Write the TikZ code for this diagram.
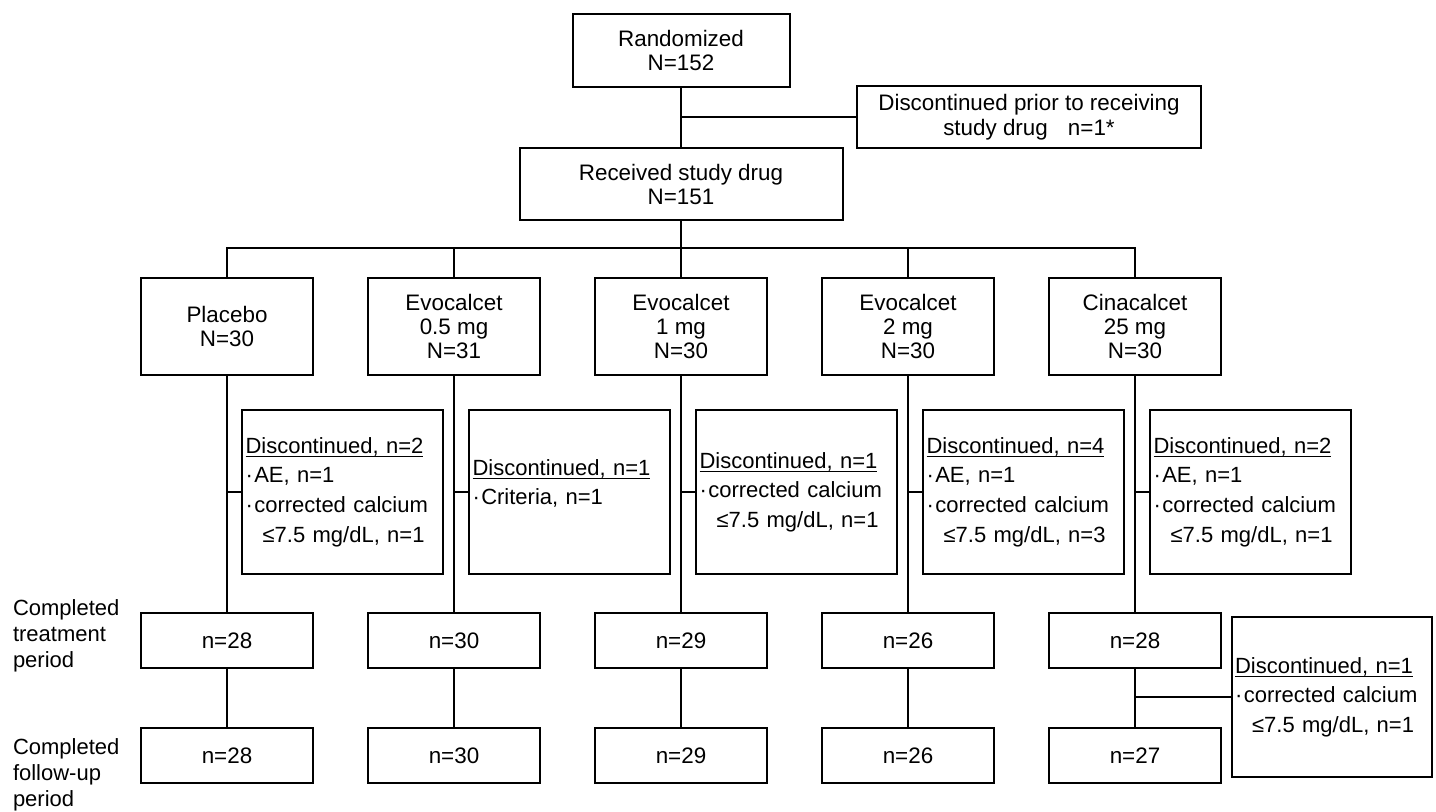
\documentclass[tikz,border=0pt]{standalone}
\usepackage{fontspec}
\setmainfont{Liberation Sans}
\newcommand{\mybullet}{\makebox[0.4em][l]{·}}
\newcommand{\myindent}{\hspace*{0.78em}}
\newcommand{\myul}[1]{\setbox0\hbox{#1}\rlap{\rule[-1.8pt]{\wd0}{0.5pt}}\box0}
\begin{document}
\begin{tikzpicture}[x=0.5pt,y=-0.5pt, line width=1pt,
  box/.style={draw, inner sep=0pt, align=center, font=\fontsize{11.2}{12}\selectfont},
  tbox/.style={box, minimum width=86pt, minimum height=48.5pt},
  nbox/.style={box, minimum width=86pt, minimum height=27.5pt},
  dbox/.style={draw, inner sep=0pt, minimum width=100.5pt, minimum height=82pt, text width=97pt, align=left, font=\fontsize{11}{14.8}\selectfont},
  lab/.style={anchor=west, align=left, inner sep=0pt, font=\fontsize{11}{13}\selectfont}]
\useasboundingbox (0,0) rectangle (1436,811);

\node[box, minimum width=108.5pt, minimum height=36.5pt] (rand) at (681,50.5) {Randomized\\N=152};
\node[box, minimum width=172pt, minimum height=31pt, font=\fontsize{11.2}{12.5}\selectfont] (prior) at (1029,117) {Discontinued prior to receiving\\study drug\hspace{0.9em}n=1*};
\node[box, minimum width=161.5pt, minimum height=36pt] (recv) at (681,184) {Received study drug\\N=151};

\node[tbox] (t1) at (227,326.5) {Placebo\\N=30};
\node[tbox] (t2) at (454,326.5) {Evocalcet\\0.5 mg\\N=31};
\node[tbox] (t3) at (681,326.5) {Evocalcet\\1 mg\\N=30};
\node[tbox] (t4) at (908,326.5) {Evocalcet\\2 mg\\N=30};
\node[tbox] (t5) at (1135,326.5) {Cinacalcet\\25 mg\\N=30};

\node[dbox] (d1) at (342.5,492) {\myul{Discontinued, n=2}\\\mybullet AE, n=1\\\mybullet corrected calcium\\\myindent ≤7.5 mg/dL, n=1};
\node[dbox] (d2) at (569.5,492) {\myul{Discontinued, n=1}\\\mybullet Criteria, n=1\\[-5pt]\mbox{}};
\node[dbox] (d3) at (796.5,492) {\myul{Discontinued, n=1}\\\mybullet corrected calcium\\\myindent ≤7.5 mg/dL, n=1};
\node[dbox] (d4) at (1023.5,492) {\myul{Discontinued, n=4}\\\mybullet AE, n=1\\\mybullet corrected calcium\\\myindent ≤7.5 mg/dL, n=3};
\node[dbox] (d5) at (1250.5,492) {\myul{Discontinued, n=2}\\\mybullet AE, n=1\\\mybullet corrected calcium\\\myindent ≤7.5 mg/dL, n=1};

\node[nbox] (c1) at (227,640.5) {n=28};
\node[nbox] (c2) at (454,640.5) {n=30};
\node[nbox] (c3) at (681,640.5) {n=29};
\node[nbox] (c4) at (908,640.5) {n=26};
\node[nbox] (c5) at (1135,640.5) {n=28};

\node[nbox] (f1) at (227,755.5) {n=28};
\node[nbox] (f2) at (454,755.5) {n=30};
\node[nbox] (f3) at (681,755.5) {n=29};
\node[nbox] (f4) at (908,755.5) {n=26};
\node[nbox] (f5) at (1135,755.5) {n=27};

\node[dbox, minimum width=100pt, minimum height=80pt] (x) at (1332,697) {\myul{Discontinued, n=1}\\\mybullet corrected calcium\\\myindent ≤7.5 mg/dL, n=1};

\node[lab] (l1) at (12,636) {Completed\\treatment\\period};
\node[lab] (l2) at (12,775) {Completed\\follow-up\\period};

\draw (rand.south) -- (recv.north);
\draw (rand.south |- prior.west) -- (prior.west);
\coordinate (bus) at (681,248);
\draw (recv.south) -- (bus);
\draw (t1.north) |- (bus) -| (t5.north);
\foreach \i in {2,3,4} \draw (t\i.north) -- (t\i.north |- bus);
\foreach \i in {1,...,5} {
  \draw (t\i.south) -- (c\i.north);
  \draw (t\i.south |- d\i.west) -- (d\i.west);
  \draw (c\i.south) -- (f\i.north);
}
\draw (c5.south |- x.west) -- (x.west);
\end{tikzpicture}
\end{document}
